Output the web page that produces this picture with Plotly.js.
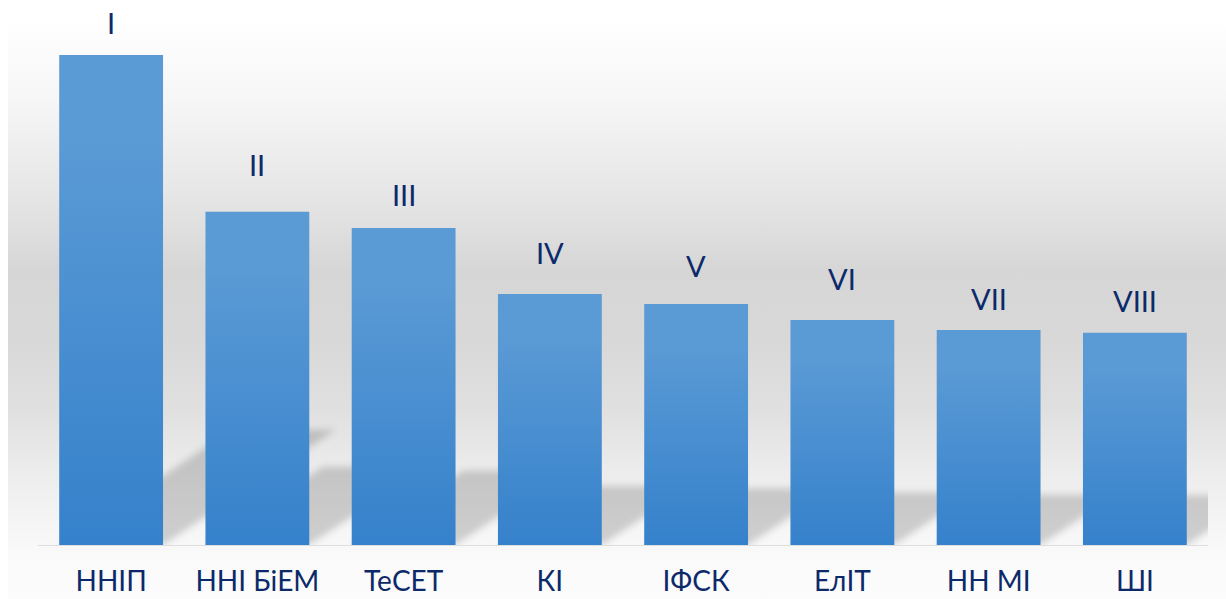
<!DOCTYPE html>
<html>
<head>
<meta charset="utf-8">
<script src="https://cdn.plot.ly/plotly-3.0.1.min.js"></script>
<style>
  html, body { margin: 0; padding: 0; background: #ffffff; }
  #wrap { position: relative; width: 1226px; height: 599px; overflow: hidden; }
  #bg {
    position: absolute; left: 8px; top: 0; width: 1218px; height: 599px;
    background: linear-gradient(to bottom,
      #ffffff 0px, #ffffff 18px, #f6f6f6 100px, #e5e5e5 200px, #d6d6d6 270px,
      #d8d8d8 340px, #e0e0e0 410px, #ececec 470px, #f6f6f6 530px, #fafafa 560px, #fcfcfc 599px);
  }
  #chart { position: absolute; left: 0; top: 0; width: 1226px; height: 599px; }
</style>
</head>
<body>
<div id="wrap">
  <div id="bg"></div>
  <div id="chart"></div>
</div>
<script>
// ---- data ----
const categories = ["ННІП", "ННІ БіЕМ", "ТеСЕТ", "КІ", "ІФСК", "ЕлІТ", "НН МІ", "ШІ"];
const values = [100, 68.0, 64.7, 51.2, 49.2, 45.9, 43.9, 43.3];
const rankLabels = ["I", "II", "III", "IV", "V", "VI", "VII", "VIII"];

// ---- style / layout config ----
const W = 1226, H = 599;
const margin = { l: 38, r: 18, t: 20, b: 54 };
const yMax = 107.14;
const barWidth = 0.71;
const labelGap = [19, 34, 20, 28, 25, 28, 18, 19];   // px gap between numeral baseline and bar top
const textColor = "#0c2a6a";
const fontFamily = "Lato, 'Open Sans', sans-serif";

const xIdx = categories.map((_, i) => i);

const plotW = W - margin.l - margin.r;
const plotH = H - margin.t - margin.b;
const pxPerX = plotW / categories.length;
const pxPerY = plotH / yMax;

// perspective shadows derived from bar values
const shadowRatio = 0.235, shadowSkew = 1.5;
const shapes = values.map((v, i) => {
  const h = v * shadowRatio;
  const dx = shadowSkew * h * pxPerY / pxPerX;
  const hw = barWidth / 2;
  return {
    type: "path", xref: "x", yref: "y", layer: "below",
    path: `M ${i - hw} 0 L ${i + hw} 0 L ${i + hw + dx} ${h} L ${i - hw + dx} ${h} Z`,
    fillcolor: "rgba(0,0,0,0.17)", line: { width: 0 }
  };
});

const annotations = values.map((v, i) => ({
  x: i, y: v, xref: "x", yref: "y",
  text: rankLabels[i], showarrow: false,
  xanchor: "center", yanchor: "bottom",
  yshift: labelGap[i] - 6,
  font: { family: fontFamily, size: 29, color: textColor }
}));

const trace = {
  type: "bar",
  x: xIdx,
  y: values,
  width: barWidth,
  marker: { color: "#4a8fd1", line: { width: 0 } },
  hoverinfo: "skip"
};

const layout = {
  width: W, height: H,
  margin: margin,
  paper_bgcolor: "rgba(0,0,0,0)",
  plot_bgcolor: "rgba(0,0,0,0)",
  showlegend: false,
  xaxis: {
    type: "linear",
    range: [-0.5, categories.length - 0.5],
    tickvals: xIdx, ticktext: categories,
    showgrid: false, zeroline: false,
    showline: true, linecolor: "#dedede", linewidth: 1,
    ticks: "", ticklabelstandoff: 11,
    tickfont: { family: fontFamily, size: 28, color: textColor },
    fixedrange: true
  },
  yaxis: {
    range: [0, yMax],
    showgrid: false, zeroline: false, showline: false,
    showticklabels: false, ticks: "",
    fixedrange: true
  },
  shapes: shapes,
  annotations: annotations
};

Plotly.newPlot("chart", [trace], layout, { staticPlot: true, displayModeBar: false }).then(gd => {
  const NS = "http://www.w3.org/2000/svg";
  const svg = gd.querySelector("svg.main-svg");
  let defs = svg.querySelector("defs");
  if (!defs) { defs = document.createElementNS(NS, "defs"); svg.insertBefore(defs, svg.firstChild); }

  const grad = document.createElementNS(NS, "linearGradient");
  grad.setAttribute("id", "barGrad");
  grad.setAttribute("x1", "0"); grad.setAttribute("y1", "0");
  grad.setAttribute("x2", "0"); grad.setAttribute("y2", "1");
  [["0", "#5b9bd5"], ["0.18", "#5a9ad5"], ["1", "#3581cb"]].forEach(([o, c]) => {
    const s = document.createElementNS(NS, "stop");
    s.setAttribute("offset", o); s.setAttribute("stop-color", c);
    grad.appendChild(s);
  });
  defs.appendChild(grad);

  const filt = document.createElementNS(NS, "filter");
  filt.setAttribute("id", "shBlur");
  filt.setAttribute("x", "-20%"); filt.setAttribute("y", "-30%");
  filt.setAttribute("width", "140%"); filt.setAttribute("height", "160%");
  const fb = document.createElementNS(NS, "feGaussianBlur");
  fb.setAttribute("stdDeviation", "3.5");
  filt.appendChild(fb);
  defs.appendChild(filt);

  gd.querySelectorAll(".bars .point path").forEach(p => { p.style.fill = "url(#barGrad)"; });
  gd.querySelectorAll(".shapelayer path").forEach(p => {
    p.setAttribute("filter", "url(#shBlur)");
    p.style.filter = "url(#shBlur)";
  });
});
</script>
</body>
</html>
